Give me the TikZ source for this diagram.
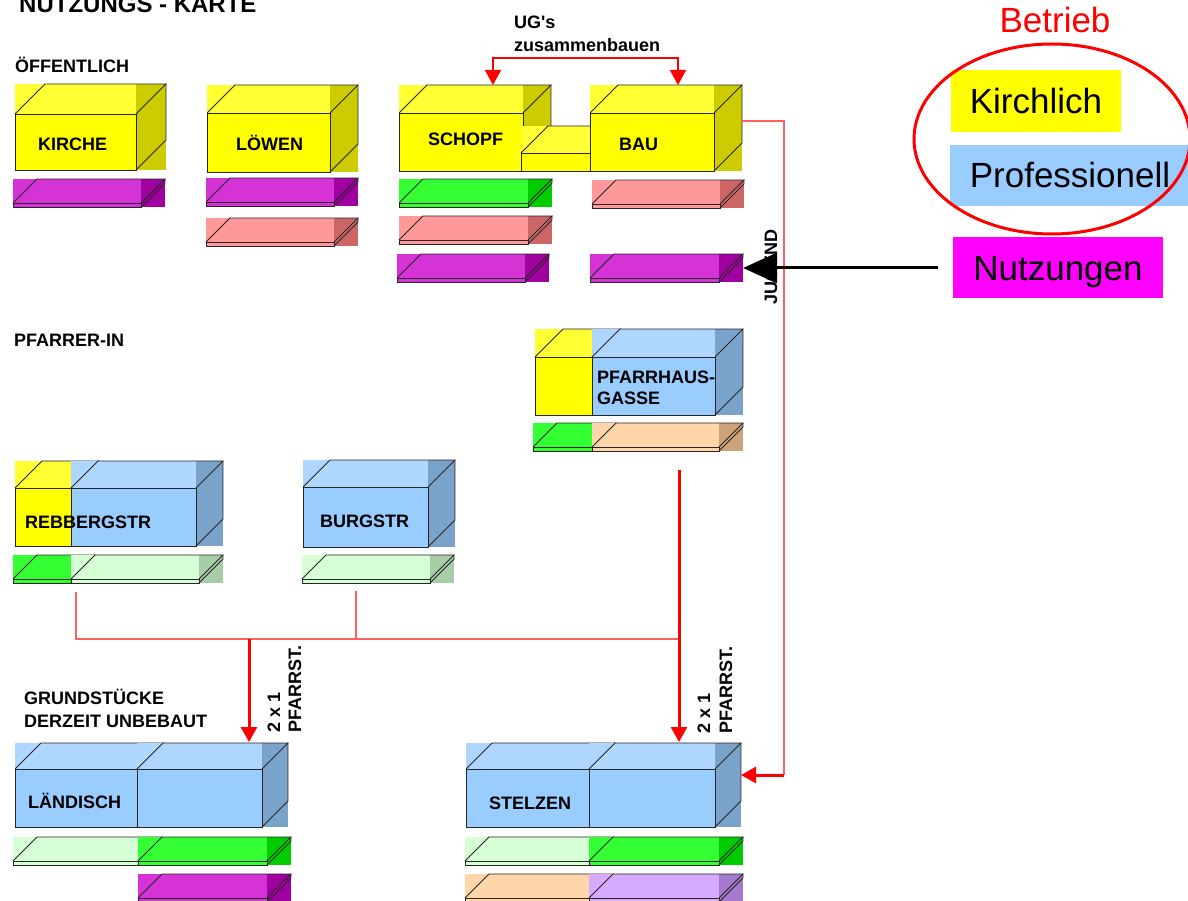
\documentclass[tikz,border=0pt]{standalone}
\usepackage{fontspec}
\setmainfont{Liberation Sans}
\usetikzlibrary{arrows.meta}
\definecolor{yelT}{HTML}{FFFF33}
\definecolor{yelF}{HTML}{FFFF00}
\definecolor{yelS}{HTML}{CCCC00}
\definecolor{bluT}{HTML}{AED6FF}
\definecolor{bluF}{HTML}{99CCFF}
\definecolor{bluS}{HTML}{7AA3CC}
\definecolor{magT}{HTML}{D633D6}
\definecolor{magS}{HTML}{A000A0}
\definecolor{pnkT}{HTML}{FF9999}
\definecolor{pnkS}{HTML}{CC6666}
\definecolor{grnT}{HTML}{33FF33}
\definecolor{grnS}{HTML}{00CC00}
\definecolor{lgrT}{HTML}{D6FFD6}
\definecolor{lgrS}{HTML}{A8CCA8}
\definecolor{pchT}{HTML}{FFD6AA}
\definecolor{pchS}{HTML}{CCA37A}
\definecolor{lavT}{HTML}{D6AAFF}
\definecolor{lavS}{HTML}{A47ACC}
\definecolor{legMag}{HTML}{FF00FF}
\definecolor{thinRed}{HTML}{FF6060}
\newcommand{\straightquote}{\XeTeXglyph\XeTeXcharglyph"27\relax}
% cuboid: x0 y0 x1 y1 depth colourprefix
\newcommand{\cub}[6]{%
  \fill[#6T] (#1,#2) rectangle ({#3-#5},{#2+#5});
  \fill[#6S] ({#3-#5},#2) rectangle (#3,#4);
  \fill[#6F] (#1,{#2+#5}) rectangle ({#3-#5},#4);
  \draw[edge] (#1,{#2+#5}) rectangle ({#3-#5},#4);
  \draw[edge] (#1,{#2+#5}) -- ({#1+#5},#2) -- (#3,#2) -- ({#3-#5},{#2+#5});
  \draw[edge] (#3,#2) -- (#3,{#4-#5}) -- ({#3-#5},#4);
}
% slab: x0 y0 x1 colourprefix (height 28, depth 24)
\newcommand{\slb}[4]{%
  \fill[#4T] (#1,#2) rectangle ({#3-24},{#2+28});
  \fill[#4S] ({#3-24},#2) rectangle (#3,{#2+28});
  \draw[edge] (#1,{#2+24}) rectangle ({#3-24},{#2+28});
  \draw[edge] (#1,{#2+24}) -- ({#1+24},#2) -- (#3,#2) -- ({#3-24},{#2+24});
  \draw[edge] (#3,#2) -- (#3,{#2+4}) -- ({#3-24},{#2+28});
}
\begin{document}
\begin{tikzpicture}[x=1pt,y=-1pt,
  edge/.style={draw=black!85, line width=0.8pt},
  lbl/.style={font=\bfseries\fontsize{18}{21}\selectfont, inner sep=0pt, anchor=base west},
  leg/.style={font=\fontsize{35}{40}\selectfont, inner sep=0pt, text height=25pt, text depth=0pt},
  thinline/.style={draw=thinRed, line width=1.3pt},
  redarrow/.style={draw=red, line width=3pt, -{Triangle[width=16pt,length=15pt]}},
  ugarrow/.style={draw=red, line width=1.8pt, {Triangle[width=16pt,length=15pt]}-{Triangle[width=16pt,length=15pt]}},
  blackarrow/.style={draw=black, line width=3pt, -{Triangle[width=30pt,length=34pt]}}]
\useasboundingbox (0,0) rectangle (1188,901);
\fill[white] (0,0) rectangle (1188,901);

% title and group labels
\node[lbl, font=\bfseries\fontsize{24}{28}\selectfont] (title) at (19,13) {NUTZUNGS - KARTE};
\node[lbl] (oeff) at (15,73) {ÖFFENTLICH};
\node[lbl] (pfarrer) at (14,346) {PFARRER-IN};
\node[lbl] (grund1) at (24,704) {GRUNDSTÜCKE};
\node[lbl] (grund2) at (24,727) {DERZEIT UNBEBAUT};
\node[lbl] (ug1) at (514,29) {UG\straightquote s};
\node[lbl] (ug2) at (514,52) {zusammenbauen};

% row 1 buildings
\cub{15}{84}{166}{170}{30}{yel}
\cub{207}{85}{358}{172}{28}{yel}
\cub{399}{85}{551}{171}{28}{yel}
\cub{521}{126}{618}{171}{27}{yel}
\cub{590}{85}{742}{171}{28}{yel}
\node[lbl] (kirche) at (38,151) {KIRCHE};
\node[lbl] (loewen) at (236,151) {LÖWEN};
\node[lbl] (schopf) at (428,146) {SCHOPF};
\node[lbl] (bau) at (619,151) {BAU};

% row 1 uses
\slb{13}{179}{165}{mag}
\slb{206}{178}{358}{mag}
\slb{206}{218}{358}{pnk}
\slb{399}{179}{552}{grn}
\slb{399}{216}{552}{pnk}
\slb{397}{254}{549}{mag}
\slb{592}{180}{744}{pnk}
\slb{590}{254}{743}{mag}

% Pfarrhausgasse
\cub{535}{329}{620}{415}{28}{yel}
\cub{592}{329}{743}{415}{28}{blu}
\node[lbl] (pfh1) at (597,383) {PFARRHAUS-};
\node[lbl] (pfh2) at (597,404) {GASSE};
\slb{533}{423}{616}{grn}
\slb{592}{423}{743}{pch}

% Rebbergstr, Burgstr
\cub{15}{461}{99}{546}{27}{yel}
\cub{71}{461}{223}{546}{27}{blu}
\node[lbl] (rebberg) at (25,528) {REBBERGSTR};
\slb{13}{555}{95}{grn}
\slb{71}{555}{223}{lgr}
\cub{303}{460}{455}{547}{27}{blu}
\node[lbl] (burg) at (320,527) {BURGSTR};
\slb{302}{555}{454}{lgr}

% Laendisch
\cub{15}{743}{163}{827}{26}{blu}
\cub{137}{743}{288}{827}{26}{blu}
\node[lbl] (laendisch) at (28,808) {LÄNDISCH};
\slb{13}{837}{162}{lgr}
\slb{138}{837}{291}{grn}
\slb{138}{874}{291}{mag}

% Stelzen
\cub{466}{743}{615}{827}{26}{blu}
\cub{589}{743}{741}{827}{26}{blu}
\node[lbl] (stelzen) at (489,809) {STELZEN};
\slb{465}{837}{613}{lgr}
\slb{589}{837}{743}{grn}
\slb{465}{874}{613}{pch}
\slb{589}{874}{743}{lav}

% rotated labels
\node[lbl, rotate=90] (l2x1a) at (280,733) {2 x 1};
\node[lbl, rotate=90] (lpfa) at (301,733) {PFARRST.};
\node[lbl, rotate=90] (l2x1b) at (710,734) {2 x 1};
\node[lbl, rotate=90] (lpfb) at (732,734) {PFARRST.};
\node[lbl, rotate=90, anchor=base] (jugend) at (777,267) {JUGEND};

% connection points
\coordinate (schopf-t) at (493,85);
\coordinate (bau-t) at (678,85);
\coordinate (bau-e) at (742,121);
\coordinate (side-j) at (784,775);
\coordinate (stelzen-e) at (741,775);
\coordinate (rebberg-b) at (76,592);
\coordinate (burg-b) at (356,591);
\coordinate (burg-j) at (356,639);
\coordinate (pfh-b) at (679,470);
\coordinate (bus-e) at (679,639);
\coordinate (bus-l) at (249,639);
\coordinate (stelzen-t) at (679,742);
\coordinate (laendisch-t) at (249,742);
\coordinate (nutz-w) at (938,268);
\coordinate (baumag-e) at (743,268);

% red connectors
\draw[ugarrow] (schopf-t) -- ++(0,-27) -| (bau-t);
\draw[thinline] (bau-e) -| (side-j);
\draw[redarrow] (side-j) -- (stelzen-e);
\draw[thinline] (rebberg-b) |- (bus-e);
\draw[thinline] (burg-b) -- (burg-j);
\draw[redarrow] (pfh-b) -- (stelzen-t);
\draw[redarrow] (bus-l) -- (laendisch-t);

% legend
\node[leg, fill=yelF, minimum width=170pt, minimum height=62pt] (kirchlich) at (1036,101) {Kirchlich};
\node[leg, fill=bluF, minimum width=240pt, minimum height=61pt] (prof) at (1070,175.5) {Professionell};
\node[leg, fill=legMag, minimum width=210pt, minimum height=61pt] (nutzungen) at (1058,267.5) {Nutzungen};
\node[font=\fontsize{35}{40}\selectfont, text=red, inner sep=0pt, anchor=base] (betrieb) at (1055,33) {Betrieb};
\draw[red, line width=3pt] (1052,139) ellipse [x radius=138, y radius=95];

\draw[blackarrow] (nutz-w) -- (baumag-e);
\end{tikzpicture}
\end{document}
